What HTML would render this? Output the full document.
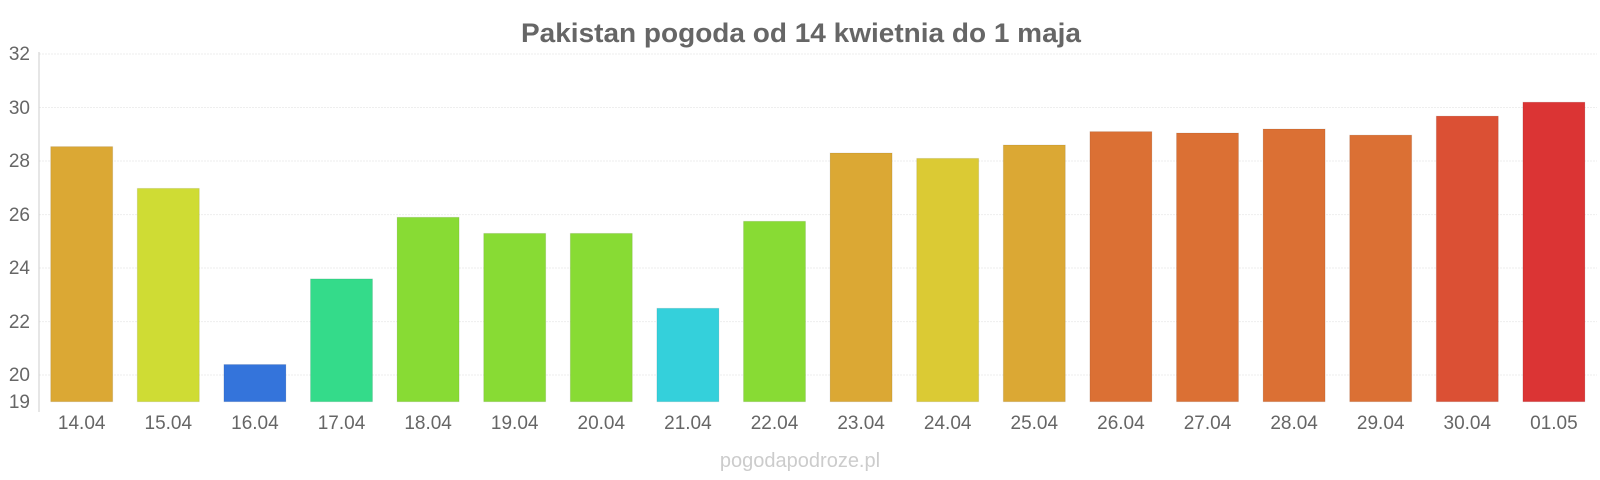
<!DOCTYPE html>
<html><head><meta charset="utf-8"><style>body{margin:0;background:#fff}svg{display:block}</style></head><body>
<svg width="1600" height="480" xmlns="http://www.w3.org/2000/svg" font-family="Liberation Sans, sans-serif">
<text x="801" y="42" text-anchor="middle" font-size="27" font-weight="bold" fill="#666" textLength="560" lengthAdjust="spacingAndGlyphs">Pakistan pogoda od 14 kwietnia do 1 maja</text>
<g stroke="#eee" stroke-width="1" stroke-dasharray="2,1">
<line x1="39" x2="1597" y1="54" y2="54"/><line x1="39" x2="1597" y1="107.5" y2="107.5"/><line x1="39" x2="1597" y1="161" y2="161"/><line x1="39" x2="1597" y1="214.6" y2="214.6"/><line x1="39" x2="1597" y1="268" y2="268"/><line x1="39" x2="1597" y1="321.6" y2="321.6"/><line x1="39" x2="1597" y1="375" y2="375"/>
</g>
<line x1="39" x2="39" y1="52" y2="412" stroke="#ccc"/>
<g font-size="19" fill="#666" text-anchor="end">
<text x="30" y="60">32</text><text x="30" y="114">30</text><text x="30" y="167">28</text><text x="30" y="221">26</text><text x="30" y="274">24</text><text x="30" y="328">22</text><text x="30" y="381">20</text><text x="30" y="408">19</text>
</g>
<g stroke="rgba(0,0,0,0.08)">
<rect x="50.7" y="146.6" width="62" height="255.1" fill="#dba834"/>
<rect x="137.3" y="188.4" width="62" height="213.3" fill="#cfdc34"/>
<rect x="223.9" y="364.5" width="62" height="37.2" fill="#3474db"/>
<rect x="310.5" y="278.9" width="62" height="122.8" fill="#34db8a"/>
<rect x="397.1" y="217.3" width="62" height="184.4" fill="#88db34"/>
<rect x="483.7" y="233.4" width="62" height="168.3" fill="#88db34"/>
<rect x="570.3" y="233.4" width="62" height="168.3" fill="#88db34"/>
<rect x="656.9" y="308.3" width="62" height="93.4" fill="#34d0db"/>
<rect x="743.5" y="221.3" width="62" height="180.4" fill="#88db34"/>
<rect x="830.1" y="153.0" width="62" height="248.7" fill="#dba834"/>
<rect x="916.7" y="158.4" width="62" height="243.3" fill="#dbca34"/>
<rect x="1003.3" y="145.0" width="62" height="256.7" fill="#dba834"/>
<rect x="1089.9" y="131.6" width="62" height="270.1" fill="#db7034"/>
<rect x="1176.5" y="133.0" width="62" height="268.7" fill="#db7034"/>
<rect x="1263.1" y="129.0" width="62" height="272.7" fill="#db7034"/>
<rect x="1349.7" y="135.1" width="62" height="266.6" fill="#db7034"/>
<rect x="1436.3" y="116.1" width="62" height="285.6" fill="#db5034"/>
<rect x="1522.9" y="102.2" width="62" height="299.5" fill="#db3434"/>
</g>
<g font-size="19" fill="#666" text-anchor="middle">
<text x="81.7" y="429">14.04</text><text x="168.3" y="429">15.04</text><text x="254.9" y="429">16.04</text><text x="341.5" y="429">17.04</text><text x="428.1" y="429">18.04</text><text x="514.7" y="429">19.04</text><text x="601.3" y="429">20.04</text><text x="687.9" y="429">21.04</text><text x="774.5" y="429">22.04</text><text x="861.1" y="429">23.04</text><text x="947.7" y="429">24.04</text><text x="1034.3" y="429">25.04</text><text x="1120.9" y="429">26.04</text><text x="1207.5" y="429">27.04</text><text x="1294.1" y="429">28.04</text><text x="1380.7" y="429">29.04</text><text x="1467.3" y="429">30.04</text><text x="1553.9" y="429">01.05</text>
</g>
<text x="800" y="467" text-anchor="middle" font-size="20" fill="#ccc">pogodapodroze.pl</text>
</svg>
</body></html>
